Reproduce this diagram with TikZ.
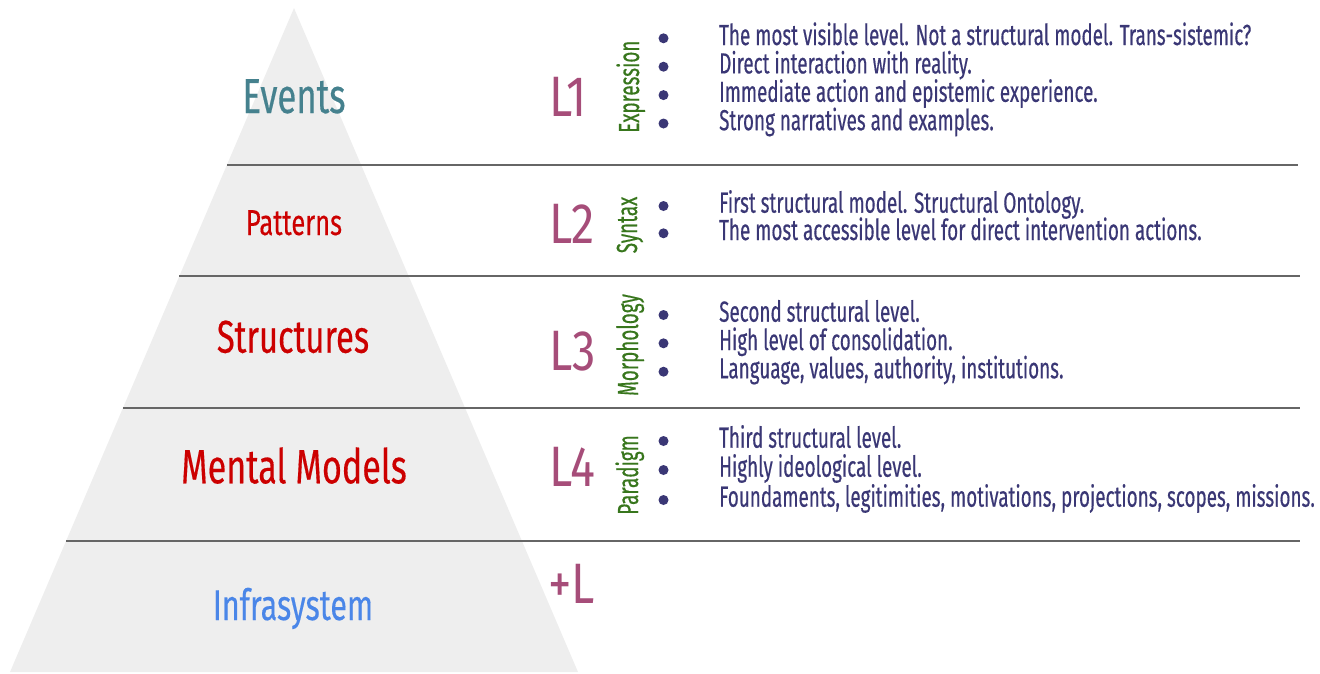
\documentclass[tikz,border=0pt]{standalone}
\usepackage{fontspec}
\setmainfont{Fira Sans}[FakeStretch=0.65,FakeBold=0.4]
\newfontfamily\titlefont{Fira Sans}[FakeStretch=0.71,FakeBold=0.3]
\newfontfamily\levelfont{Fira Sans}[FakeStretch=0.82]
\definecolor{trifill}{HTML}{EEEEEE}
\definecolor{sepgray}{HTML}{666666}
\definecolor{teal}{HTML}{45818E}
\definecolor{gred}{HTML}{CC0000}
\definecolor{gblue}{HTML}{4A86E8}
\definecolor{lmag}{HTML}{A64D79}
\definecolor{lgreen}{HTML}{38761D}
\definecolor{txt}{HTML}{3A3775}
\begin{document}
\begin{tikzpicture}[x=1pt,y=-1pt,
  sep/.style={draw=sepgray,line width=2pt},
  title/.style={anchor=base,inner sep=0pt},
  lvl/.style={anchor=base west,inner sep=0pt,text=lmag,font=\levelfont\fontsize{57}{57}\selectfont},
  vlab/.style={anchor=base,rotate=90,inner sep=0pt,text=lgreen,font=\fontsize{29}{29}\selectfont},
  item/.style={anchor=base west,inner sep=0pt,text=txt,font=\fontsize{29}{29}\selectfont},
  dot/.style={circle,fill=txt,inner sep=0pt,minimum size=10pt}]
\useasboundingbox (0,0) rectangle (1320,673);
\fill[trifill] (294,8) -- (578,672) -- (10,672) -- cycle;
% separators
\coordinate (s1) at (226.8,165); \coordinate (e1) at (1298,165);
\coordinate (s2) at (179.4,276); \coordinate (e2) at (1300,276);
\coordinate (s3) at (122.9,408); \coordinate (e3) at (1300,408);
\coordinate (s4) at (66.0,541);  \coordinate (e4) at (1300,541);
\draw[sep] (s1) -- (e1);
\draw[sep] (s2) -- (e2);
\draw[sep] (s3) -- (e3);
\draw[sep] (s4) -- (e4);
% pyramid titles
\node[title,text=teal,font=\titlefont\fontsize{49}{49}\selectfont] (events) at (294,113) {Events};
\node[title,text=gred,font=\titlefont\fontsize{36}{36}\selectfont] (patterns) at (294,235) {Patterns};
\node[title,text=gred,font=\titlefont\fontsize{46}{46}\selectfont] (structures) at (293,352.7) {Structures};
\node[title,text=gred,font=\titlefont\fontsize{48}{48}\selectfont] (mental) at (294,483.3) {Mental Models};
\node[title,text=gblue,font=\titlefont\fontsize{43}{43}\selectfont] (infra) at (293,620) {Infrasystem};
% levels
\node[lvl] (l1) at (549,116.7) {L1};
\node[lvl] (l2) at (549,243.3) {L2};
\node[lvl] (l3) at (549,370.7) {L3};
\node[lvl] (l4) at (549,486.7) {L4};
\node[lvl] (lp) at (548,603) {+L};
% vertical labels
\node[vlab] (vexp) at (639,86.7) {Expression};
\node[vlab] (vsyn) at (637,225) {Syntax};
\node[vlab] (vmor) at (638,345) {Morphology};
\node[vlab] (vpar) at (638,475) {Paradigm};
% L1 items
\node[dot] (d11) at (663.5,38.3) {};
\node[dot] (d12) at (663.5,66.7) {};
\node[dot] (d13) at (663.5,95.1) {};
\node[dot] (d14) at (663.5,123.5) {};
\node[item] (t11) at (719,45) {The most visible level. Not a structural model. Trans-sistemic?};
\node[item] (t12) at (719,73.4) {Direct interaction with reality.};
\node[item] (t13) at (719,101.8) {Immediate action and epistemic experience.};
\node[item] (t14) at (719,130.2) {Strong narratives and examples.};
% L2 items
\node[dot] (d21) at (663.5,206) {};
\node[dot] (d22) at (663.5,233.3) {};
\node[item] (t21) at (719,212.7) {First structural model. Structural Ontology.};
\node[item] (t22) at (719,240) {The most accessible level for direct intervention actions.};
% L3 items
\node[dot] (d31) at (663.5,315) {};
\node[dot] (d32) at (663.5,343.3) {};
\node[dot] (d33) at (663.5,371.7) {};
\node[item] (t31) at (719,321.7) {Second structural level.};
\node[item] (t32) at (719,350) {High level of consolidation.};
\node[item] (t33) at (719,378.3) {Language, values, authority, institutions.};
% L4 items
\node[dot] (d41) at (663.5,441) {};
\node[dot] (d42) at (663.5,470) {};
\node[dot] (d43) at (663.5,500) {};
\node[item] (t41) at (719,447.7) {Third structural level.};
\node[item] (t42) at (719,476.7) {Highly ideological level.};
\node[item] (t43) at (719,506.7) {Foundaments, legitimities, motivations, projections, scopes, missions.};
\end{tikzpicture}
\end{document}
